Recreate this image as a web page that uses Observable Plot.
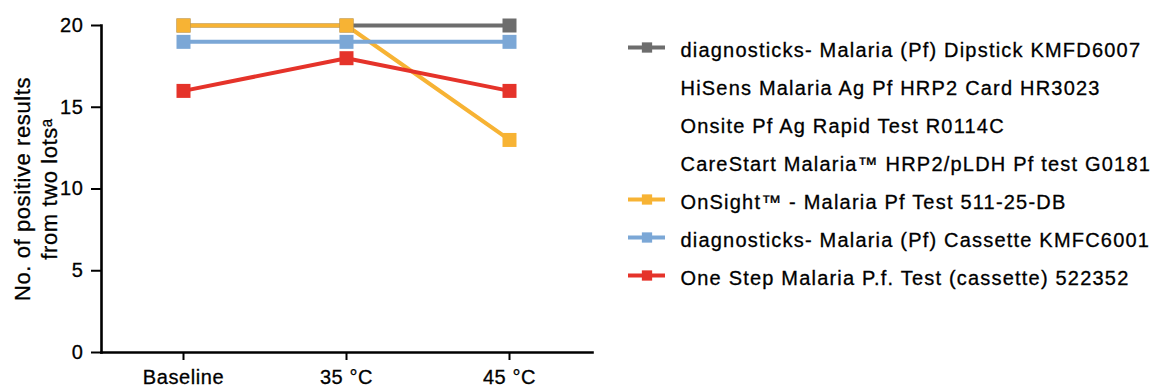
<!DOCTYPE html>
<html>
<head>
<meta charset="utf-8">
<script src="https://cdn.jsdelivr.net/npm/d3@7"></script>
<script src="https://cdn.jsdelivr.net/npm/@observablehq/plot@0.6"></script>
<style>
  html, body { margin: 0; padding: 0; background: #fff; }
  #chart { position: relative; width: 1163px; height: 388px; overflow: hidden; }
  #chart > svg { position: absolute; top: 0; }
  #chart text { stroke: #000; stroke-width: 0.3px; }
</style>
</head>
<body>
<div id="chart"></div>
<script>
// ---- Data ----
const conditions = ["Baseline", "35 °C", "45 °C"];
const seriesNames = [
  "diagnosticks- Malaria (Pf) Dipstick KMFD6007",
  "HiSens Malaria Ag Pf HRP2 Card HR3023",
  "Onsite Pf Ag Rapid Test R0114C",
  "CareStart Malaria™ HRP2/pLDH Pf test G0181",
  "OnSight™ - Malaria Pf Test 511-25-DB",
  "diagnosticks- Malaria (Pf) Cassette KMFC6001",
  "One Step Malaria P.f. Test (cassette) 522352"
];
const seriesColors = ["#6d6d6d", "none", "none", "none", "#f7b334", "#7ba7d6", "#e5332a"];
const dipstickKMFD6007 = [20, 20, 20];
const hisensHR3023 = [20, 20, 20];
const onsiteR0114C = [20, 20, 20];
const carestartG0181 = [20, 20, 20];
const onsight51125DB = [20, 20, 13];
const cassetteKMFC6001 = [19, 19, 19];
const oneStep522352 = [16, 18, 16];
const seriesValues = [dipstickKMFD6007, hisensHR3023, onsiteR0114C, carestartG0181, onsight51125DB, cassetteKMFC6001, oneStep522352];
const yTicks = [0, 5, 10, 15, 20];
const yTitle = "No. of positive results\nfrom two lotsᵃ";

// ---- Table ----
const rows = seriesNames.flatMap((name, i) =>
  conditions.map((c, j) => ({series: name, condition: c, value: seriesValues[i][j]}))
);
const legendRows = seriesNames.map((name, i) => ({name, color: seriesColors[i]}));
const visibleLegend = legendRows.filter(d => d.color !== "none");

const font = "'Liberation Sans', Arial, Helvetica, sans-serif";

const main = Plot.plot({
  width: 600,
  height: 388,
  marginLeft: 101,
  marginRight: 8,
  marginTop: 25,
  marginBottom: 36,
  style: {fontFamily: font, fontSize: "20px", color: "#000", background: "transparent", letterSpacing: "0.6px"},
  x: {type: "point", domain: conditions, range: [183, 509], padding: 0, label: null},
  y: {domain: [0, 20], label: null},
  color: {domain: seriesNames, range: seriesColors},
  marks: [
    Plot.axisY({ticks: yTicks, tickSize: 10, tickPadding: 8, strokeWidth: 2, label: null, fontSize: 20}),
    Plot.axisX({tickSize: 8, tickPadding: 9, strokeWidth: 2, label: null, fontSize: 20}),
    Plot.frame({anchor: "left", strokeWidth: 2.6}),
    Plot.frame({anchor: "bottom", strokeWidth: 2.6}),
    Plot.line(rows, {x: "condition", y: "value", z: "series", stroke: "series", strokeWidth: 4, strokeLinejoin: "miter"}),
    Plot.dot(rows, {x: "condition", y: "value", fill: "series", symbol: "square", r: 7.9, stroke: null}),
    Plot.text([yTitle], {frameAnchor: "left", rotate: -90, dx: -67, textAnchor: "middle", lineAnchor: "middle", lineHeight: 1.23, fontSize: 22, fill: "#000"})
  ]
});
main.style.left = "0px";

const legend = Plot.plot({
  width: 563,
  height: 388,
  margin: 0,
  style: {fontFamily: font, fontSize: "20px", color: "#000", background: "transparent", letterSpacing: "1.2px"},
  x: {domain: [0, 1], range: [28, 65], axis: null},
  y: {type: "point", domain: seriesNames, range: [44.7, 276.7], padding: 0, axis: null},
  color: {domain: seriesNames, range: seriesColors},
  marks: [
    Plot.ruleY(visibleLegend, {y: "name", x1: 0, x2: 1, stroke: "name", strokeWidth: 4}),
    Plot.dot(visibleLegend, {x: 0.5, y: "name", fill: "name", symbol: "square", r: 5.8}),
    Plot.text(legendRows, {x: 1, y: "name", text: "name", dx: 15, dy: 3.5, textAnchor: "start", fill: "#000"})
  ]
});
legend.style.left = "600px";

const chart = document.getElementById("chart");
chart.appendChild(main);
chart.appendChild(legend);
</script>
</body>
</html>
